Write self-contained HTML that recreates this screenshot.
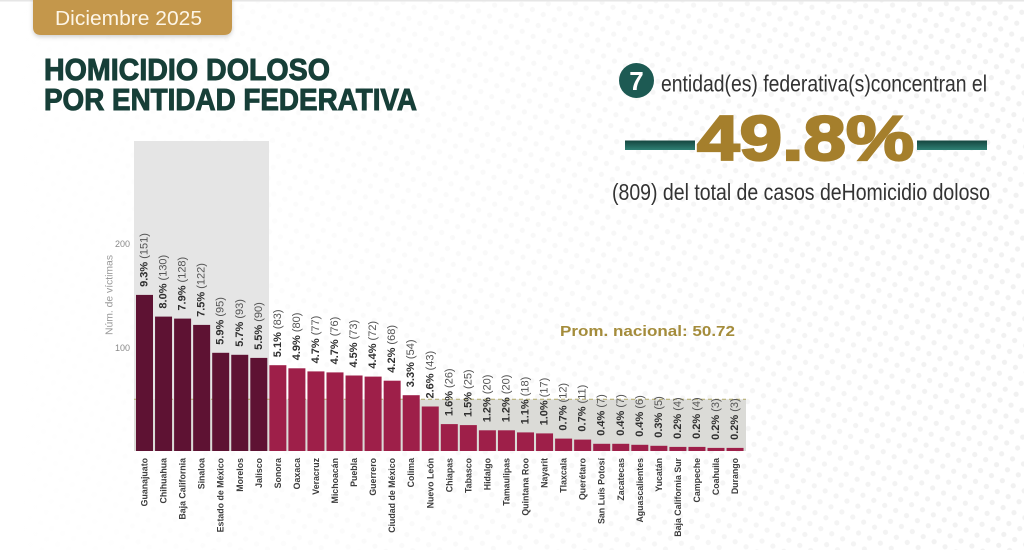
<!DOCTYPE html>
<html>
<head>
<meta charset="utf-8">
<style>
  html,body{margin:0;padding:0;background:#fff;}
  body{width:1024px;height:550px;overflow:hidden;}
  svg{display:block;font-family:"Liberation Sans",sans-serif;}
  .pl{font-size:11px;fill:#555;}
  .pl tspan.b{font-weight:bold;fill:#2f2f2f;}
  .cl{font-size:8.8px;font-weight:bold;fill:#3d3d3d;}
</style>
</head>
<body>
<svg width="1024" height="550" viewBox="0 0 1024 550" xmlns="http://www.w3.org/2000/svg">
  <defs>
    <pattern id="dots" width="17" height="17" patternUnits="userSpaceOnUse" patternTransform="rotate(-20)">
      <circle cx="4" cy="4" r="2.6" fill="#f1f1f1"/>
      <circle cx="12.5" cy="12.5" r="2.6" fill="#f1f1f1"/>
    </pattern>
    <linearGradient id="fade" x1="0" y1="0" x2="1" y2="0">
      <stop offset="0" stop-color="#fff" stop-opacity="1"/>
      <stop offset="0.45" stop-color="#fff" stop-opacity="0.6"/>
      <stop offset="1" stop-color="#fff" stop-opacity="0"/>
    </linearGradient>
    <linearGradient id="teal" x1="0" y1="0" x2="0" y2="1">
      <stop offset="0" stop-color="#15463f"/>
      <stop offset="1" stop-color="#2f8074"/>
    </linearGradient>
    <filter id="sh" x="-10%" y="-30%" width="120%" height="180%">
      <feDropShadow dx="0" dy="2" stdDeviation="2" flood-color="#000" flood-opacity="0.18"/>
    </filter>
  </defs>

  <!-- background -->
  <rect x="0" y="0" width="1024" height="550" fill="#fff"/>
  <rect x="0" y="0" width="1024" height="550" fill="url(#dots)"/>
  <rect x="0" y="0" width="1024" height="550" fill="url(#fade)"/>
  <rect x="0" y="0" width="1024" height="1.5" fill="#e6e6e6"/>

  <!-- month tab -->
  <path d="M33,-2 H232 V27 Q232,35 224,35 H41 Q33,35 33,27 Z" fill="#c4974c" filter="url(#sh)"/>
  <text x="55" y="25" font-size="20" fill="#fdf5e6" textLength="147" lengthAdjust="spacingAndGlyphs">Diciembre 2025</text>

  <!-- title -->
  <text x="44" y="80" font-size="30.5" font-weight="bold" fill="#173f38" stroke="#173f38" stroke-width="1" textLength="286" lengthAdjust="spacingAndGlyphs">HOMICIDIO DOLOSO</text>
  <text x="44" y="110" font-size="30.5" font-weight="bold" fill="#173f38" stroke="#173f38" stroke-width="1" textLength="373" lengthAdjust="spacingAndGlyphs">POR ENTIDAD FEDERATIVA</text>

  <!-- right summary -->
  <circle cx="636.5" cy="80.5" r="17.5" fill="#1d5a53"/>
  <text x="636.5" y="90" font-size="26" font-weight="bold" fill="#fff" text-anchor="middle">7</text>
  <text x="661" y="91.5" font-size="23" fill="#333" textLength="326" lengthAdjust="spacingAndGlyphs">entidad(es) federativa(s)concentran el</text>

  <rect x="625" y="140.5" width="70" height="9.5" fill="url(#teal)"/>
  <rect x="917" y="140.5" width="70" height="9.5" fill="url(#teal)"/>
  <text x="697" y="160" font-size="63" font-weight="bold" fill="#a57f2c" stroke="#a57f2c" stroke-width="2.2" textLength="217" lengthAdjust="spacingAndGlyphs">49.8%</text>

  <text x="612" y="200" font-size="23" fill="#333" textLength="378" lengthAdjust="spacingAndGlyphs">(809) del total de casos deHomicidio doloso</text>

  <!-- chart backgrounds -->
  <rect x="134" y="141" width="135" height="310" fill="#e5e5e5"/>
  <rect x="134" y="399.3" width="612" height="51.7" fill="#dbdbd7"/>
  <line x1="134" y1="399.3" x2="746" y2="399.3" stroke="#b3ab6a" stroke-width="1" stroke-dasharray="4,3"/>

  <text x="735" y="336" font-size="15" font-weight="bold" fill="#a48c3b" text-anchor="end" textLength="175" lengthAdjust="spacingAndGlyphs">Prom. nacional: 50.72</text>

  <!-- y axis -->
  <text x="130" y="247" font-size="9" fill="#8a8a8a" text-anchor="end">200</text>
  <text x="130" y="351" font-size="9" fill="#8a8a8a" text-anchor="end">100</text>
  <text transform="translate(110,295) rotate(-90)" font-size="10" fill="#9a9a9a" text-anchor="middle" dominant-baseline="central" textLength="80" lengthAdjust="spacingAndGlyphs">Núm. de víctimas</text>

  <!-- bars -->
  <g fill="#5e1233">
    <rect x="136.00" y="294.9" width="17" height="156.1"/>
    <rect x="155.05" y="316.6" width="17" height="134.4"/>
    <rect x="174.10" y="318.6" width="17" height="132.4"/>
    <rect x="193.15" y="324.9" width="17" height="126.1"/>
    <rect x="212.20" y="352.8" width="17" height="98.2"/>
    <rect x="231.25" y="354.8" width="17" height="96.2"/>
    <rect x="250.30" y="357.9" width="17" height="93.1"/>
  </g>
  <g fill="#9e1f49">
    <rect x="269.35" y="365.2" width="17" height="85.8"/>
    <rect x="288.40" y="368.3" width="17" height="82.7"/>
    <rect x="307.45" y="371.4" width="17" height="79.6"/>
    <rect x="326.50" y="372.4" width="17" height="78.6"/>
    <rect x="345.55" y="375.5" width="17" height="75.5"/>
    <rect x="364.60" y="376.6" width="17" height="74.4"/>
    <rect x="383.65" y="380.7" width="17" height="70.3"/>
    <rect x="402.70" y="395.2" width="17" height="55.8"/>
    <rect x="421.75" y="406.5" width="17" height="44.5"/>
    <rect x="440.80" y="424.1" width="17" height="26.9"/>
    <rect x="459.85" y="425.1" width="17" height="25.9"/>
    <rect x="478.90" y="430.3" width="17" height="20.7"/>
    <rect x="497.95" y="430.3" width="17" height="20.7"/>
    <rect x="517.00" y="432.4" width="17" height="18.6"/>
    <rect x="536.05" y="433.4" width="17" height="17.6"/>
    <rect x="555.10" y="438.6" width="17" height="12.4"/>
    <rect x="574.15" y="439.6" width="17" height="11.4"/>
    <rect x="593.20" y="443.8" width="17" height="7.2"/>
    <rect x="612.25" y="443.8" width="17" height="7.2"/>
    <rect x="631.30" y="444.8" width="17" height="6.2"/>
    <rect x="650.35" y="445.8" width="17" height="5.2"/>
    <rect x="669.40" y="446.9" width="17" height="4.1"/>
    <rect x="688.45" y="446.9" width="17" height="4.1"/>
    <rect x="707.50" y="447.9" width="17" height="3.1"/>
    <rect x="726.55" y="447.9" width="17" height="3.1"/>
  </g>

  <!-- value labels -->
  <g class="pl" dominant-baseline="central">
    <text transform="translate(144.5,286.9) rotate(-90)"><tspan class="b">9.3%</tspan> (151)</text>
    <text transform="translate(163.55,308.6) rotate(-90)"><tspan class="b">8.0%</tspan> (130)</text>
    <text transform="translate(182.6,310.6) rotate(-90)"><tspan class="b">7.9%</tspan> (128)</text>
    <text transform="translate(201.65,316.9) rotate(-90)"><tspan class="b">7.5%</tspan> (122)</text>
    <text transform="translate(220.7,344.8) rotate(-90)"><tspan class="b">5.9%</tspan> (95)</text>
    <text transform="translate(239.75,346.8) rotate(-90)"><tspan class="b">5.7%</tspan> (93)</text>
    <text transform="translate(258.8,349.9) rotate(-90)"><tspan class="b">5.5%</tspan> (90)</text>
    <text transform="translate(277.85,357.2) rotate(-90)"><tspan class="b">5.1%</tspan> (83)</text>
    <text transform="translate(296.9,360.3) rotate(-90)"><tspan class="b">4.9%</tspan> (80)</text>
    <text transform="translate(315.95,363.4) rotate(-90)"><tspan class="b">4.7%</tspan> (77)</text>
    <text transform="translate(335,364.4) rotate(-90)"><tspan class="b">4.7%</tspan> (76)</text>
    <text transform="translate(354.05,367.5) rotate(-90)"><tspan class="b">4.5%</tspan> (73)</text>
    <text transform="translate(373.1,368.6) rotate(-90)"><tspan class="b">4.4%</tspan> (72)</text>
    <text transform="translate(392.15,372.7) rotate(-90)"><tspan class="b">4.2%</tspan> (68)</text>
    <text transform="translate(411.2,387.2) rotate(-90)"><tspan class="b">3.3%</tspan> (54)</text>
    <text transform="translate(430.25,398.5) rotate(-90)"><tspan class="b">2.6%</tspan> (43)</text>
    <text transform="translate(449.3,416.1) rotate(-90)"><tspan class="b">1.6%</tspan> (26)</text>
    <text transform="translate(468.35,417.1) rotate(-90)"><tspan class="b">1.5%</tspan> (25)</text>
    <text transform="translate(487.4,422.3) rotate(-90)"><tspan class="b">1.2%</tspan> (20)</text>
    <text transform="translate(506.45,422.3) rotate(-90)"><tspan class="b">1.2%</tspan> (20)</text>
    <text transform="translate(525.5,424.4) rotate(-90)"><tspan class="b">1.1%</tspan> (18)</text>
    <text transform="translate(544.55,425.4) rotate(-90)"><tspan class="b">1.0%</tspan> (17)</text>
    <text transform="translate(563.6,430.6) rotate(-90)"><tspan class="b">0.7%</tspan> (12)</text>
    <text transform="translate(582.65,431.6) rotate(-90)"><tspan class="b">0.7%</tspan> (11)</text>
    <text transform="translate(601.7,435.8) rotate(-90)"><tspan class="b">0.4%</tspan> (7)</text>
    <text transform="translate(620.75,435.8) rotate(-90)"><tspan class="b">0.4%</tspan> (7)</text>
    <text transform="translate(639.8,436.8) rotate(-90)"><tspan class="b">0.4%</tspan> (6)</text>
    <text transform="translate(658.85,437.8) rotate(-90)"><tspan class="b">0.3%</tspan> (5)</text>
    <text transform="translate(677.9,438.9) rotate(-90)"><tspan class="b">0.2%</tspan> (4)</text>
    <text transform="translate(696.95,438.9) rotate(-90)"><tspan class="b">0.2%</tspan> (4)</text>
    <text transform="translate(716,439.9) rotate(-90)"><tspan class="b">0.2%</tspan> (3)</text>
    <text transform="translate(735.05,439.9) rotate(-90)"><tspan class="b">0.2%</tspan> (3)</text>
  </g>

  <!-- category labels -->
  <g class="cl" text-anchor="end" dominant-baseline="central">
    <text transform="translate(144.5,458) rotate(-90)">Guanajuato</text>
    <text transform="translate(163.55,458) rotate(-90)">Chihuahua</text>
    <text transform="translate(182.6,458) rotate(-90)">Baja California</text>
    <text transform="translate(201.65,458) rotate(-90)">Sinaloa</text>
    <text transform="translate(220.7,458) rotate(-90)">Estado de México</text>
    <text transform="translate(239.75,458) rotate(-90)">Morelos</text>
    <text transform="translate(258.8,458) rotate(-90)">Jalisco</text>
    <text transform="translate(277.85,458) rotate(-90)">Sonora</text>
    <text transform="translate(296.9,458) rotate(-90)">Oaxaca</text>
    <text transform="translate(315.95,458) rotate(-90)">Veracruz</text>
    <text transform="translate(335,458) rotate(-90)">Michoacán</text>
    <text transform="translate(354.05,458) rotate(-90)">Puebla</text>
    <text transform="translate(373.1,458) rotate(-90)">Guerrero</text>
    <text transform="translate(392.15,458) rotate(-90)">Ciudad de México</text>
    <text transform="translate(411.2,458) rotate(-90)">Colima</text>
    <text transform="translate(430.25,458) rotate(-90)">Nuevo León</text>
    <text transform="translate(449.3,458) rotate(-90)">Chiapas</text>
    <text transform="translate(468.35,458) rotate(-90)">Tabasco</text>
    <text transform="translate(487.4,458) rotate(-90)">Hidalgo</text>
    <text transform="translate(506.45,458) rotate(-90)">Tamaulipas</text>
    <text transform="translate(525.5,458) rotate(-90)">Quintana Roo</text>
    <text transform="translate(544.55,458) rotate(-90)">Nayarit</text>
    <text transform="translate(563.6,458) rotate(-90)">Tlaxcala</text>
    <text transform="translate(582.65,458) rotate(-90)">Querétaro</text>
    <text transform="translate(601.7,458) rotate(-90)">San Luis Potosí</text>
    <text transform="translate(620.75,458) rotate(-90)">Zacatecas</text>
    <text transform="translate(639.8,458) rotate(-90)">Aguascalientes</text>
    <text transform="translate(658.85,458) rotate(-90)">Yucatán</text>
    <text transform="translate(677.9,458) rotate(-90)">Baja California Sur</text>
    <text transform="translate(696.95,458) rotate(-90)">Campeche</text>
    <text transform="translate(716,458) rotate(-90)">Coahuila</text>
    <text transform="translate(735.05,458) rotate(-90)">Durango</text>
  </g>
</svg>
</body>
</html>
